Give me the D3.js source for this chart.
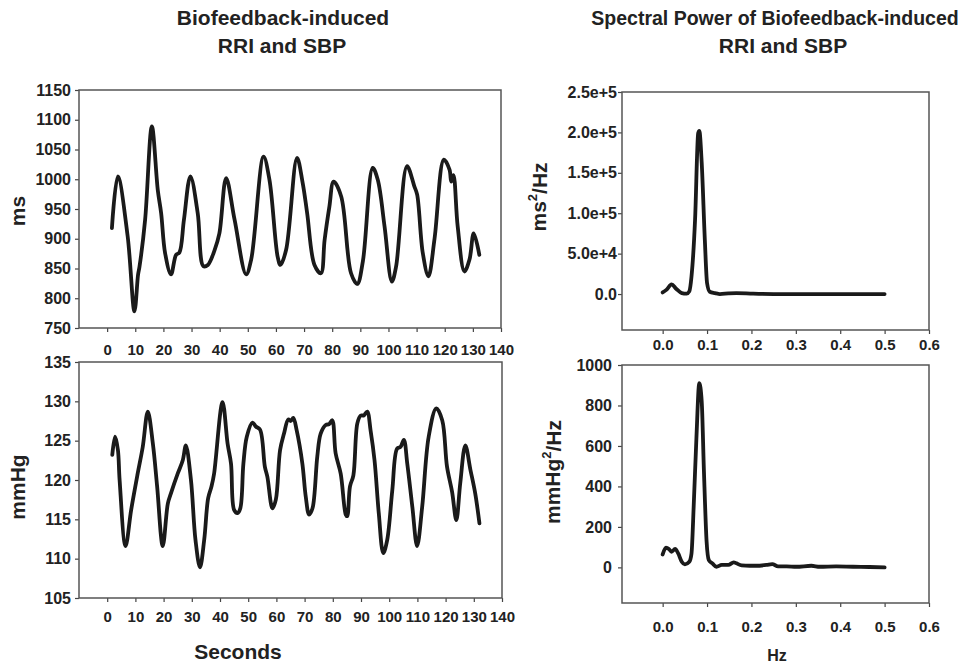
<!DOCTYPE html>
<html>
<head>
<meta charset="utf-8">
<script src="https://cdn.jsdelivr.net/npm/d3@7"></script>
<style>
  body { margin: 0; background: #fff; }
  svg text { font-family: "Liberation Sans", Arial, Helvetica, sans-serif; font-weight: bold; fill: #222; }
</style>
</head>
<body>
<svg id="chart" width="974" height="665"></svg>
<script>
// RRI (ms) over time
const rriTime = [1.7, 3.8, 7.3, 9.7, 11.0, 11.5, 13.5, 15.9, 18.0, 19.2, 20.6, 22.7, 24.5, 25.7, 27.3, 29.6, 32.2, 34.2, 35.8, 38.2, 39.9, 42.3, 45.3, 49.4, 51.2, 55.6, 57.7, 60.6, 61.6, 63.6, 67.5, 69.5, 71.1, 73.7, 76.0, 77.3, 79.0, 80.5, 83.2, 86.7, 88.9, 90.9, 94.4, 96.2, 98.6, 101.2, 102.7, 106.6, 109.2, 110.2, 112.2, 114.2, 116.4, 119.7, 121.7, 122.3, 123.1, 124.6, 127.0, 128.8, 130.3, 132.3];
const rriValue = [918, 1005, 904, 778, 840, 853, 932, 1089, 982, 943, 876, 840, 873, 877, 932, 1005, 943, 854, 856, 881, 909, 1002, 932, 840, 865, 1038, 999, 870, 856, 881, 1036, 994, 943, 856, 842, 898, 954, 996, 971, 842, 824, 862, 1019, 999, 921, 828, 853, 1022, 988, 974, 876, 837, 901, 1033, 1016, 996, 1007, 921, 845, 865, 909, 873];

// SBP (mmHg) over time
const sbpTime = [1.8, 2.8, 3.8, 4.4, 6.5, 8.5, 10.8, 12.6, 14.4, 16.2, 17.7, 19.7, 21.5, 22.6, 25.0, 26.8, 27.9, 29.7, 31.3, 32.9, 34.4, 35.8, 37.0, 37.9, 40.9, 42.7, 43.9, 45.0, 46.2, 47.2, 48.3, 49.5, 51.5, 52.7, 54.2, 55.9, 56.8, 58.6, 59.8, 61.3, 62.7, 64.2, 65.1, 66.0, 67.2, 69.2, 70.4, 71.6, 72.8, 74.5, 75.7, 77.5, 78.7, 79.8, 81.0, 82.8, 84.6, 85.1, 86.1, 87.3, 88.7, 89.9, 91.0, 92.2, 93.4, 94.8, 96.3, 97.9, 99.3, 101.1, 102.8, 104.0, 105.2, 106.4, 108.2, 109.9, 111.7, 114.0, 116.7, 118.8, 120.5, 122.3, 123.8, 125.2, 127.0, 128.8, 130.5, 132.0];
const sbpValue = [123.2, 125.5, 123.8, 120.0, 111.6, 116.2, 120.8, 124.2, 128.7, 124.6, 119.2, 111.6, 117.0, 118.3, 120.8, 122.5, 124.4, 120.0, 112.4, 108.9, 112.4, 117.7, 119.2, 120.8, 129.9, 124.6, 122.1, 116.2, 115.8, 116.4, 122.1, 125.5, 127.3, 126.8, 126.4, 121.7, 120.4, 116.4, 117.5, 123.8, 125.9, 127.7, 127.5, 127.9, 126.3, 122.1, 117.9, 115.6, 116.4, 123.0, 125.9, 127.0, 127.1, 127.6, 123.4, 120.8, 115.6, 115.4, 119.2, 120.6, 127.2, 128.2, 128.2, 128.7, 126.3, 122.5, 115.8, 110.7, 112.4, 118.7, 124.0, 124.2, 125.1, 122.1, 116.6, 111.6, 116.6, 125.5, 129.1, 127.6, 121.7, 118.5, 114.9, 119.6, 124.4, 121.3, 118.3, 114.5];

// RRI spectral power (ms^2/Hz)
const rriFreq = [0.0, 0.009, 0.02, 0.031, 0.043, 0.054, 0.06, 0.065, 0.073, 0.080, 0.0825, 0.088, 0.095, 0.100, 0.106, 0.118, 0.129, 0.148, 0.166, 0.204, 0.25, 0.3, 0.35, 0.4, 0.45, 0.5];
const rriPower = [2000, 5400, 12000, 6200, 1200, 400, 3300, 21900, 92000, 199000, 202000, 162000, 67000, 13600, 2900, 1200, 0, 800, 1200, 400, 0, 0, 0, 0, 0, 0];

// SBP spectral power (mmHg^2/Hz)
const sbpFreq = [0.0, 0.0075, 0.014, 0.02, 0.028, 0.035, 0.043, 0.05, 0.06, 0.065, 0.070, 0.076, 0.0825, 0.088, 0.093, 0.099, 0.104, 0.112, 0.121, 0.133, 0.148, 0.16, 0.166, 0.178, 0.196, 0.211, 0.234, 0.247, 0.26, 0.279, 0.301, 0.335, 0.354, 0.391, 0.429, 0.466, 0.5];
const sbpPower = [64, 97, 91, 77, 91, 69, 28, 15, 28, 69, 308, 637, 910, 819, 473, 127, 36, 20, 3, 12, 12, 25, 20, 10, 8, 8, 12, 16, 5, 5, 3, 8, 3, 5, 3, 2, 0];

// tick labels
const secTicks = [0, 10, 20, 30, 40, 50, 60, 70, 80, 90, 100, 110, 120, 130, 140];
const hzTicks = [0.0, 0.1, 0.2, 0.3, 0.4, 0.5, 0.6];
const rriTicks = [750, 800, 850, 900, 950, 1000, 1050, 1100, 1150];
const sbpTicks = [105, 110, 115, 120, 125, 130, 135];
const rriPowTicks = [0, 50000, 100000, 150000, 200000, 250000];
const sbpPowTicks = [0, 200, 400, 600, 800, 1000];

const svg = d3.select("#chart");

function drawPanel(p){
    const x = d3.scaleLinear().domain(p.xDomain).range([p.left, p.right]);
    const y = d3.scaleLinear().domain(p.yDomain).range([p.bottom, p.top]);

    const g = svg.append("g");

    //x axis
    const xAxis = g.append("g")
        .attr("transform", `translate(0, ${p.bottom})`)
        .call(d3.axisBottom(x).tickValues(p.xTicks).tickSize(4).tickSizeOuter(0)
            .tickPadding(p.xPad).tickFormat(p.xFormat));
    xAxis.select(".domain").remove();
    xAxis.selectAll("line").attr("stroke", "#444").attr("stroke-width", 1.2);
    xAxis.selectAll("text").attr("font-size", "15px").attr("fill", "#222");

    //y axis
    const yAxis = g.append("g")
        .attr("transform", `translate(${p.left}, 0)`)
        .call(d3.axisLeft(y).tickValues(p.yTicks).tickSize(4).tickSizeOuter(0)
            .tickPadding(p.yPad).tickFormat(p.yFormat));
    yAxis.select(".domain").remove();
    yAxis.selectAll("line").attr("stroke", "#444").attr("stroke-width", 1.2);
    yAxis.selectAll("text").attr("font-size", "16px").attr("fill", "#222");

    //frame
    g.append("rect")
        .attr("x", p.left).attr("y", p.top)
        .attr("width", p.right - p.left).attr("height", p.bottom - p.top)
        .attr("fill", "none").attr("stroke", "#555").attr("stroke-width", 1.5);

    const pts = p.xs.map((v, i) => [v, p.ys[i]]);
    const line = d3.line()
        .x(d => x(d[0]))
        .y(d => y(d[1]))
        .curve(p.curve);

    g.append("path")
        .datum(pts)
        .attr("d", line)
        .attr("fill", "none")
        .attr("stroke", "#1a1a1a")
        .attr("stroke-width", 3.8)
        .attr("stroke-linejoin", "round")
        .attr("stroke-linecap", "round");
}

const secFmt = d => d;
const hzFmt = d => d.toFixed(1);
const expFmt = d => d === 0 ? "0.0" : d3.format(".1e")(d);

drawPanel({
    left: 79, right: 501, top: 90, bottom: 328,
    xDomain: [-10, 140], yDomain: [750, 1150],
    xTicks: secTicks, yTicks: rriTicks, xPad: 12, yPad: 4,
    xFormat: secFmt, yFormat: d => d,
    xs: rriTime, ys: rriValue, curve: d3.curveCatmullRom.alpha(0.5)
});

drawPanel({
    left: 79, right: 502, top: 362, bottom: 598,
    xDomain: [-10, 140], yDomain: [105, 135],
    xTicks: secTicks, yTicks: sbpTicks, xPad: 9, yPad: 4,
    xFormat: secFmt, yFormat: d => d,
    xs: sbpTime, ys: sbpValue, curve: d3.curveCatmullRom.alpha(0.5)
});

drawPanel({
    left: 622, right: 929, top: 92, bottom: 330,
    xDomain: [-0.0916, 0.6], yDomain: [-44500, 250000],
    xTicks: hzTicks, yTicks: rriPowTicks, xPad: 5, yPad: 1,
    xFormat: hzFmt, yFormat: expFmt,
    xs: rriFreq, ys: rriPower, curve: d3.curveMonotoneX
});

drawPanel({
    left: 622, right: 929, top: 365, bottom: 603,
    xDomain: [-0.0916, 0.6], yDomain: [-176, 1000],
    xTicks: hzTicks, yTicks: sbpPowTicks, xPad: 14, yPad: 6,
    xFormat: hzFmt, yFormat: d => d,
    xs: sbpFreq, ys: sbpPower, curve: d3.curveMonotoneX
});

//titles
const titles = [
    {x: 283, y: 25, t: "Biofeedback-induced", size: 21},
    {x: 282, y: 53, t: "RRI and SBP", size: 21},
    {x: 775, y: 25, t: "Spectral Power of Biofeedback-induced", size: 19.5},
    {x: 783, y: 53, t: "RRI and SBP", size: 21}
];
svg.selectAll(".title")
   .data(titles)
   .enter().append("text")
   .attr("class", "title")
   .attr("x", d => d.x)
   .attr("y", d => d.y)
   .attr("text-anchor", "middle")
   .attr("font-size", d => d.size + "px")
   .text(d => d.t);

//axis labels
function vLabel(cx, cy, parts){
    const t = svg.append("text")
        .attr("transform", `translate(${cx}, ${cy}) rotate(-90)`)
        .attr("text-anchor", "middle")
        .attr("dy", "0.35em")
        .attr("font-size", "21px");
    parts.forEach(p => {
        const s = t.append("tspan").text(p.t);
        if (p.sup) s.attr("font-size", "13px").attr("dy", "-0.7em");
        if (p.after) s.attr("dy", "0.45em");
    });
}
vLabel(18, 211, [{t: "ms"}]);
vLabel(18, 487, [{t: "mmHg"}]);
vLabel(539, 197, [{t: "ms"}, {t: "2", sup: true}, {t: "/Hz", after: true}]);
vLabel(553, 472, [{t: "mmHg"}, {t: "2", sup: true}, {t: "/Hz", after: true}]);

svg.append("text")
   .attr("x", 238).attr("y", 659)
   .attr("text-anchor", "middle")
   .attr("font-size", "21px")
   .text("Seconds");

svg.append("text")
   .attr("x", 777).attr("y", 661)
   .attr("text-anchor", "middle")
   .attr("font-size", "16px")
   .text("Hz");
</script>
</body>
</html>
